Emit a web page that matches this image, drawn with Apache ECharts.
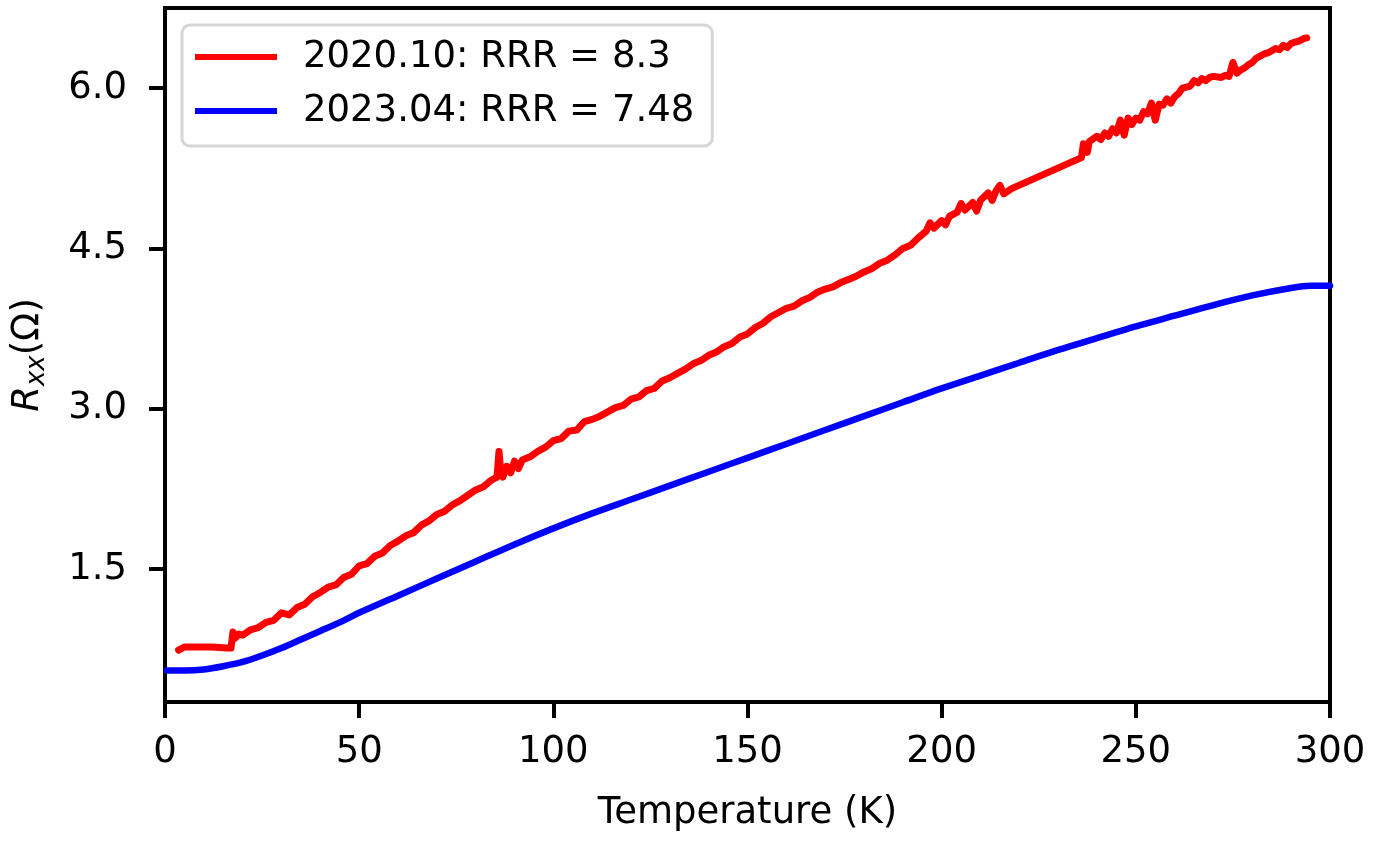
<!DOCTYPE html>
<html>
<head>
<meta charset="utf-8">
<script src="https://cdn.jsdelivr.net/npm/echarts@6/dist/echarts.min.js"></script>
<style>html,body{margin:0;padding:0;background:#fff;}#chart{width:1395px;height:842px;}</style>
</head>
<body>
<div id="chart"></div>
<script>
// ---- data ----
const seriesNames = ['2020.10: RRR = 8.3', '2023.04: RRR = 7.48'];
const xTicks = [0, 50, 100, 150, 200, 250, 300];
const yTicks = [1.5, 3.0, 4.5, 6.0];

const redT = [3.5,5,8,12,16,17,17.5,18,19,20,22,24,26,28,30,32,34,36,38,40,42,44,46,48,50,52,54,56,58,60,62,64,66,68,70,72,74,76,78,80,82,84,85.5,86,86.5,87,88,89,90,91,92,94,96,98,100,102,104,106,108,110,112,114,116,118,120,122,124,126,128,130,132,134,136,138,140,142,144,146,148,150,152,154,156,158,160,162,164,166,168,170,172,174,176,178,180,182,184,186,188,190,192,194,196,197,198,200,201,202,204,205,206,208,209,210,212,213,214,215,216,218,236,236.5,237.5,238,240,241,242,243,244,245,246,247,248,249,250,251,252,253,254,255,256,257,258,259,260,261,262,264,265,266,267,268,269,270,272,273,274,275,276,277,278,279,280,281,282,283,284,285,286,287,288,289,290,291,292,293,294];
const redR = [0.74,0.77,0.77,0.77,0.76,0.76,0.91,0.85,0.89,0.88,0.93,0.95,1.00,1.02,1.09,1.07,1.14,1.17,1.24,1.28,1.33,1.35,1.42,1.45,1.53,1.55,1.62,1.65,1.72,1.76,1.81,1.84,1.91,1.95,2.01,2.04,2.10,2.14,2.19,2.24,2.27,2.33,2.36,2.60,2.40,2.36,2.46,2.40,2.51,2.44,2.52,2.55,2.60,2.64,2.70,2.72,2.79,2.80,2.88,2.90,2.93,2.97,3.01,3.03,3.09,3.11,3.17,3.19,3.26,3.29,3.33,3.37,3.42,3.45,3.50,3.53,3.58,3.61,3.67,3.70,3.76,3.80,3.86,3.90,3.94,3.96,4.01,4.04,4.09,4.12,4.14,4.18,4.21,4.24,4.28,4.31,4.36,4.39,4.44,4.50,4.53,4.60,4.66,4.74,4.69,4.76,4.72,4.80,4.84,4.92,4.86,4.93,4.85,4.95,5.02,4.95,5.04,5.09,5.01,5.06,5.35,5.48,5.40,5.50,5.55,5.52,5.58,5.55,5.62,5.58,5.70,5.56,5.72,5.66,5.72,5.70,5.78,5.76,5.86,5.70,5.85,5.84,5.90,5.86,5.92,5.95,6.00,6.02,6.07,6.05,6.09,6.07,6.10,6.11,6.10,6.12,6.11,6.24,6.14,6.17,6.19,6.22,6.24,6.28,6.30,6.32,6.33,6.35,6.37,6.36,6.40,6.38,6.42,6.43,6.44,6.46,6.47];

const blueT = [0.5,5,10,15,20,25,30,35,40,45,50,60,70,80,90,100,110,120,130,140,150,160,170,180,190,200,210,220,230,240,250,260,270,280,290,295,300];
const blueR = [0.55,0.55,0.56,0.59,0.63,0.69,0.76,0.84,0.92,1.00,1.09,1.25,1.41,1.57,1.73,1.88,2.02,2.15,2.28,2.41,2.54,2.67,2.80,2.93,3.06,3.19,3.31,3.43,3.55,3.66,3.77,3.87,3.97,4.06,4.13,4.15,4.15];

// ---- chart ----
const pair = (xs, ys) => xs.map((x, i) => [x, ys[i]]);
const FONT = 'DejaVu Sans';
const FS = 37;
const chart = echarts.init(document.getElementById('chart'), null, {renderer: 'canvas'});
chart.setOption({
  animation: false,
  backgroundColor: '#ffffff',
  grid: {left: 165, right: 65, top: 8, bottom: 140, show: true, borderColor: '#000', borderWidth: 4, backgroundColor: 'transparent'},
  legend: {
    orient: 'vertical', left: 182, top: 25,
    padding: [12, 18, 15, 13],
    itemGap: 14, itemWidth: 82, itemHeight: 6, icon: 'rect',
    backgroundColor: 'rgba(255,255,255,0.8)', borderColor: '#d6d6d6', borderWidth: 3, borderRadius: 8,
    textStyle: {fontFamily: FONT, fontSize: FS, color: '#000', lineHeight: 40, padding: [0, 0, 0, 21]},
    data: seriesNames
  },
  xAxis: {
    type: 'value', min: 0, max: 300, interval: 50,
    name: 'Temperature (K)', nameLocation: 'middle', nameGap: 91,
    nameTextStyle: {fontFamily: FONT, fontSize: FS, color: '#000', lineHeight: 40},
    axisLine: {show: true, onZero: false, lineStyle: {color: '#000', width: 4}},
    axisTick: {show: true, inside: false, length: 16, lineStyle: {color: '#000', width: 4}},
    axisLabel: {fontFamily: FONT, fontSize: FS, color: '#000', margin: 32, formatter: v => String(v)},
    splitLine: {show: false}
  },
  yAxis: {
    type: 'value', min: 0.255, max: 6.75,
    name: '{r|R}{s|xx}{n|(Ω)}', nameLocation: 'middle', nameRotate: 90, nameGap: 115,
    nameTextStyle: {
      fontFamily: FONT, fontSize: FS, color: '#000',
      rich: {
        r: {fontFamily: FONT, fontSize: FS, fontStyle: 'italic', color: '#000', lineHeight: 44, verticalAlign: 'middle'},
        s: {fontFamily: FONT, fontSize: 26, fontStyle: 'italic', color: '#000', lineHeight: 16, verticalAlign: 'bottom'},
        n: {fontFamily: FONT, fontSize: FS, color: '#000', lineHeight: 44, verticalAlign: 'middle'}
      }
    },
    axisLine: {show: true, onZero: false, lineStyle: {color: '#000', width: 4}},
    axisTick: {show: true, inside: false, length: 16, lineStyle: {color: '#000', width: 4}, customValues: yTicks},
    axisLabel: {fontFamily: FONT, fontSize: FS, color: '#000', margin: 38, customValues: yTicks, formatter: v => v.toFixed(1)},
    splitLine: {show: false}
  },
  series: [
    {name: seriesNames[0], type: 'line', data: pair(redT, redR), showSymbol: false, symbol: 'none',
     color: '#ff0000', lineStyle: {color: '#ff0000', width: 7, join: 'round', cap: 'round'}, z: 3},
    {name: seriesNames[1], type: 'line', data: pair(blueT, blueR), showSymbol: false, symbol: 'none', smooth: 0.3,
     color: '#0000ff', lineStyle: {color: '#0000ff', width: 6.5, join: 'round', cap: 'round'}, z: 2}
  ]
});
</script>
</body>
</html>
